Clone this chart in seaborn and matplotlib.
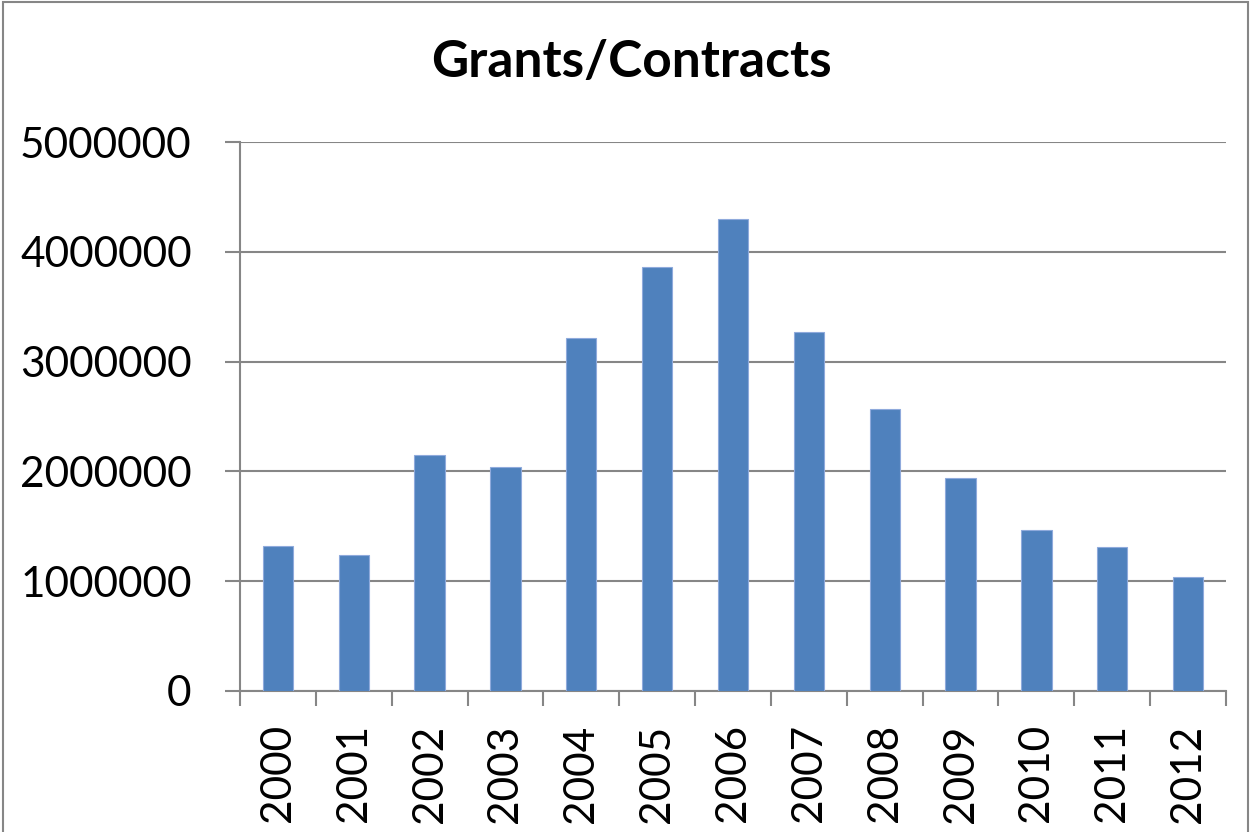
import matplotlib
matplotlib.use("Agg")
import matplotlib.pyplot as plt
import seaborn as sns
import pandas as pd
from matplotlib.patches import Rectangle
from matplotlib.ticker import FixedLocator

years = ["2000", "2001", "2002", "2003", "2004", "2005", "2006",
         "2007", "2008", "2009", "2010", "2011", "2012"]
values = [1322000, 1237000, 2150000, 2041000, 3218000, 3858000, 4295000,
          3267000, 2566000, 1941000, 1465000, 1307000, 1040000]
yticks = [0, 1000000, 2000000, 3000000, 4000000, 5000000]
title = "Grants/Contracts"

sns.set_style("white")
plt.rcParams['font.family'] = ['Lato', 'DejaVu Sans']
plt.rcParams['text.color'] = 'black'
plt.rcParams['xtick.labelcolor'] = 'black'
plt.rcParams['ytick.labelcolor'] = 'black'

df = pd.DataFrame({"year": years, "value": values})

fig = plt.figure(figsize=(12.51, 8.32), dpi=100)
ax = fig.add_axes([240/1251, 1-691/832, (1226-240)/1251, (691-142)/832])

sns.barplot(data=df, x="year", y="value", color="#4F81BD", width=0.4,
            saturation=1, edgecolor="#8FAADC", linewidth=0.8, ax=ax, zorder=3)

grid_c = "#868686"
ax.set_xlim(-0.5, len(years) - 0.5)
ax.set_ylim(0, 5000000)
ax.set_yticks(yticks)
ax.set_yticklabels([str(v) for v in yticks])
ax.yaxis.grid(True, color=grid_c, linewidth=1.5, zorder=0)
ax.xaxis.grid(False)
ax.set_axisbelow(True)
for s in ["top", "right"]:
    ax.spines[s].set_visible(False)
for s in ["left", "bottom"]:
    ax.spines[s].set_color(grid_c)
    ax.spines[s].set_linewidth(1.5)

ax.xaxis.set_minor_locator(FixedLocator([i - 0.5 for i in range(len(years) + 1)]))
ax.tick_params(axis="x", which="major", length=0, pad=24, labelsize=30.5,
               labelrotation=90, labelcolor="black")
ax.tick_params(axis="x", which="minor", length=10.8, width=1.5, color=grid_c,
               direction="out", bottom=True)
ax.tick_params(axis="y", which="major", length=10.8, width=1.5, color=grid_c,
               direction="out", left=True, pad=24, labelsize=30.5,
               labelcolor="black")
ax.set_xlabel("")
ax.set_ylabel("")

fig.text(0.505, 1 - 63/832, title, ha="center", va="center",
         fontsize=37, fontweight="bold", color="black")

fig.patches.append(Rectangle((3/1251, -0.05), 1245/1251, 1.05 - 2/832,
                             transform=fig.transFigure, fill=False,
                             edgecolor=grid_c, linewidth=1.5))

fig.savefig("out.png", dpi=100)
